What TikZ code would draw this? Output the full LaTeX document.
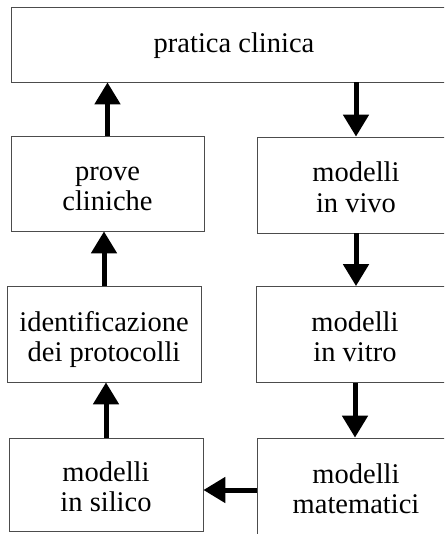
\documentclass[tikz,border=0pt]{standalone}
\usepackage{fontspec}
\setmainfont{Liberation Serif}
\usetikzlibrary{arrows.meta}

\begin{document}
\begin{tikzpicture}[x=1pt, y=-1pt]
    \tikzstyle{box} = [draw=black!70, line width=0.8pt, minimum width=194pt, minimum height=96pt, inner sep=0pt, align=center, text height=54pt, text depth=0pt, font=\fontsize{28.5}{30}\selectfont]
    \tikzstyle{flow} = [line width=5pt, -{Triangle[width=25pt, length=22pt]}]
    \useasboundingbox (0, 0) rectangle (444, 534);
    \clip (0, 0) rectangle (444, 534);
    \node[box, minimum width=446pt, minimum height=75pt, text height=19pt, text depth=2pt] (pratica) at (234, 44.5) {pratica clinica};
    \node[box, minimum width=193pt, minimum height=95pt] (prove) at (107.5, 183.5) {prove\\cliniche};
    \node[box] (protocolli) at (104, 334) {identificazione\\dei protocolli};
    \node[box, minimum height=93pt] (silico) at (106, 484.5) {modelli\\in silico};
    \node[box, minimum width=198pt] (vivo) at (356, 185) {modelli\\in vivo};
    \node[box, minimum width=198pt] (vitro) at (355, 334.5) {modelli\\in vitro};
    \node[box, minimum width=198pt, minimum height=100pt, text height=50pt] (matematici) at (356, 488) {modelli\\matematici};
    \draw[flow] (vivo.north |- pratica.south) -- (vivo.north);
    \draw[flow] (vivo.south) -- (vivo.south |- vitro.north);
    \draw[flow] (vitro.south) -- (vitro.south |- matematici.north);
    \draw[flow] (matematici.west |- 0, 490) -- (silico.east |- 0, 490);
    \draw[flow] (silico.north) -- (silico.north |- protocolli.south);
    \draw[flow] (protocolli.north) -- (protocolli.north |- prove.south);
    \draw[flow] (prove.north) -- (prove.north |- pratica.south);
\end{tikzpicture}
\end{document}
